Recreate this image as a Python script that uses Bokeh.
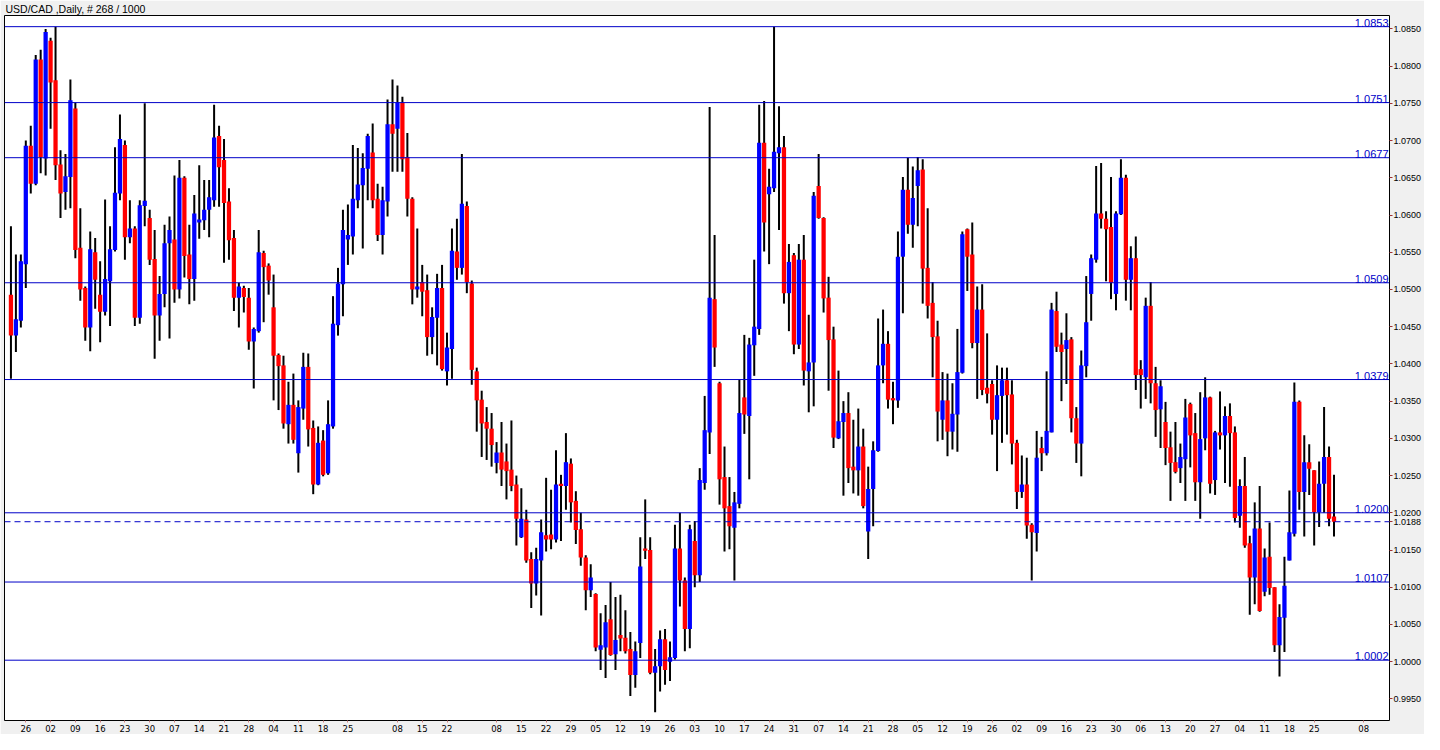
import pandas as pd
from bokeh.plotting import figure
from bokeh.models import Span, Label, FixedTicker, NumeralTickFormatter, Range1d, ColumnDataSource
from bokeh.embed import file_html
from bokeh.resources import INLINE

# ---- daily USD/CAD candles ----
opens = [1.0493,1.0438,1.0458,1.0534,1.0693,1.0642,1.0809,1.0676,1.0834,1.0781,
         1.0668,1.0631,1.0651,1.0743,1.0556,1.0502,1.0449,1.0550,1.0493,1.0470,
         1.0511,1.0553,1.0629,1.0694,1.0570,1.0582,1.0462,1.0612,1.0596,1.0541,
         1.0465,1.0494,1.0562,1.0567,1.0500,1.0650,1.0547,1.0514,1.0590,1.0593,
         1.0607,1.0620,1.0706,1.0674,1.0618,1.0569,1.0489,1.0502,1.0489,1.0430,
         1.0444,1.0549,1.0532,1.0476,1.0412,1.0398,1.0319,1.0345,1.0280,1.0340,
         1.0396,1.0314,1.0238,1.0297,1.0253,1.0316,1.0452,1.0507,1.0567,1.0571,
         1.0620,1.0640,1.0662,1.0684,1.0622,1.0573,1.0618,1.0722,1.0716,1.0751,
         1.0678,1.0622,1.0500,1.0510,1.0499,1.0436,1.0462,1.0502,1.0390,1.0420,
         1.0551,1.0529,1.0612,1.0508,1.0390,1.0352,1.0322,1.0313,1.0267,1.0281,
         1.0269,1.0258,1.0238,1.0167,1.0191,1.0138,1.0105,1.0136,1.0170,1.0171,
         1.0164,1.0239,1.0236,1.0266,1.0216,1.0178,1.0140,1.0096,1.0091,1.0016,
         1.0019,1.0057,1.0010,1.0036,1.0032,1.0017,0.9982,1.0025,1.0152,1.0150,
         0.9985,0.9994,1.0030,1.0000,1.0005,1.0152,1.0109,1.0044,1.0162,1.0116,
         1.0240,1.0308,1.0487,1.0374,1.0248,1.0209,1.0180,1.0212,1.0355,1.0330,
         1.0425,1.0447,1.0697,1.0628,1.0636,1.0683,1.0691,1.0495,1.0546,1.0426,
         1.0540,1.0390,1.0402,1.0639,1.0596,1.0489,1.0433,1.0300,1.0322,1.0334,
         1.0262,1.0257,1.0289,1.0175,1.0232,1.0283,1.0398,1.0427,1.0354,1.0351,
         1.0544,1.0634,1.0587,1.0639,1.0661,1.0529,1.0482,1.0437,1.0325,1.0351,
         1.0309,1.0332,1.0388,1.0581,1.0547,1.0428,1.0473,1.0368,1.0373,1.0325,
         1.0357,1.0378,1.0359,1.0294,1.0228,1.0238,1.0184,1.0173,1.0287,1.0280,
         1.0308,1.0471,1.0426,1.0420,1.0433,1.0327,1.0293,1.0397,1.0494,1.0540,
         1.0602,1.0595,1.0584,1.0494,1.0601,1.0650,1.0513,1.0542,1.0393,1.0382,
         1.0478,1.0374,1.0339,1.0322,1.0288,1.0268,1.0260,1.0272,1.0346,1.0307,
         1.0241,1.0300,1.0355,1.0244,1.0308,1.0304,1.0330,1.0308,1.0196,1.0236,
         1.0159,1.0113,1.0179,1.0094,1.0141,1.0100,1.0022,1.0059,1.0136,1.0172,
         1.0349,1.0228,1.0268,1.0257,1.0201,1.0239,1.0275,1.0195]
highs = [1.0585,1.0547,1.0547,1.0700,1.0720,1.0815,1.0822,1.0850,1.0838,1.0853,
         1.0687,1.0682,1.0782,1.0751,1.0609,1.0504,1.0578,1.0569,1.0538,1.0621,
         1.0585,1.0691,1.0735,1.0700,1.0620,1.0585,1.0620,1.0750,1.0607,1.0580,
         1.0518,1.0587,1.0598,1.0653,1.0674,1.0652,1.0587,1.0627,1.0667,1.0647,
         1.0647,1.0748,1.0720,1.0702,1.0636,1.0580,1.0509,1.0505,1.0502,1.0449,
         1.0580,1.0552,1.0535,1.0520,1.0414,1.0411,1.0376,1.0387,1.0351,1.0415,
         1.0414,1.0324,1.0316,1.0311,1.0351,1.0491,1.0529,1.0607,1.0614,1.0694,
         1.0690,1.0683,1.0709,1.0723,1.0642,1.0638,1.0755,1.0782,1.0774,1.0759,
         1.0710,1.0624,1.0582,1.0533,1.0520,1.0476,1.0521,1.0533,1.0442,1.0582,
         1.0595,1.0682,1.0618,1.0512,1.0395,1.0364,1.0342,1.0334,1.0295,1.0322,
         1.0293,1.0324,1.0250,1.0233,1.0204,1.0147,1.0153,1.0191,1.0247,1.0231,
         1.0284,1.0251,1.0307,1.0273,1.0229,1.0200,1.0143,1.0131,1.0092,1.0065,
         1.0076,1.0107,1.0087,1.0090,1.0069,1.0040,1.0027,1.0167,1.0218,1.0167,
         1.0017,1.0042,1.0044,1.0027,1.0184,1.0200,1.0113,1.0184,1.0189,1.0260,
         1.0357,1.0745,1.0573,1.0376,1.0289,1.0248,1.0228,1.0379,1.0439,1.0435,
         1.0540,1.0748,1.0753,1.0662,1.0853,1.0746,1.0706,1.0561,1.0549,1.0561,
         1.0573,1.0466,1.0631,1.0682,1.0597,1.0517,1.0450,1.0391,1.0350,1.0362,
         1.0325,1.0340,1.0313,1.0262,1.0296,1.0461,1.0473,1.0444,1.0376,1.0578,
         1.0651,1.0677,1.0665,1.0678,1.0675,1.0609,1.0510,1.0458,1.0389,1.0387,
         1.0374,1.0447,1.0578,1.0582,1.0590,1.0504,1.0507,1.0441,1.0378,1.0398,
         1.0395,1.0395,1.0378,1.0298,1.0277,1.0274,1.0186,1.0310,1.0302,1.0390,
         1.0482,1.0497,1.0442,1.0468,1.0436,1.0342,1.0418,1.0518,1.0547,1.0666,
         1.0670,1.0605,1.0651,1.0605,1.0675,1.0654,1.0558,1.0571,1.0405,1.0489,
         1.0510,1.0396,1.0378,1.0349,1.0309,1.0322,1.0293,1.0353,1.0348,1.0334,
         1.0362,1.0382,1.0356,1.0310,1.0363,1.0343,1.0347,1.0316,1.0245,1.0275,
         1.0169,1.0214,1.0236,1.0152,1.0187,1.0100,1.0077,1.0141,1.0230,1.0375,
         1.0351,1.0304,1.0292,1.0257,1.0269,1.0342,1.0289,1.0251]
lows = [1.0380,1.0416,1.0449,1.0502,1.0629,1.0640,1.0656,1.0653,1.0716,1.0647,
        1.0596,1.0607,1.0609,1.0542,1.0485,1.0431,1.0417,1.0474,1.0429,1.0465,
        1.0451,1.0551,1.0620,1.0540,1.0562,1.0451,1.0454,1.0585,1.0533,1.0407,
        1.0431,1.0476,1.0434,1.0482,1.0488,1.0516,1.0480,1.0485,1.0568,1.0580,
        1.0570,1.0611,1.0611,1.0536,1.0540,1.0471,1.0449,1.0469,1.0419,1.0367,
        1.0442,1.0456,1.0493,1.0351,1.0338,1.0313,1.0293,1.0293,1.0254,1.0325,
        1.0289,1.0225,1.0237,1.0249,1.0251,1.0313,1.0438,1.0464,1.0533,1.0547,
        1.0609,1.0555,1.0620,1.0609,1.0565,1.0547,1.0598,1.0658,1.0658,1.0658,
        1.0598,1.0480,1.0489,1.0464,1.0411,1.0413,1.0398,1.0391,1.0371,1.0380,
        1.0513,1.0520,1.0495,1.0372,1.0309,1.0275,1.0271,1.0262,1.0253,1.0236,
        1.0218,1.0229,1.0156,1.0166,1.0133,1.0072,1.0089,1.0062,1.0148,1.0151,
        1.0160,1.0162,1.0204,1.0187,1.0158,1.0129,1.0069,1.0087,1.0014,0.9989,
        0.9978,1.0008,0.9989,1.0014,1.0011,0.9954,0.9965,1.0005,1.0138,0.9983,
        0.9932,0.9960,0.9969,0.9974,1.0003,1.0074,1.0014,1.0018,1.0100,1.0107,
        1.0231,1.0279,1.0396,1.0211,1.0148,1.0151,1.0109,1.0206,1.0306,1.0245,
        1.0384,1.0439,1.0551,1.0534,1.0631,1.0580,1.0481,1.0444,1.0413,1.0420,
        1.0371,1.0335,1.0343,1.0595,1.0469,1.0364,1.0287,1.0299,1.0223,1.0240,
        1.0226,1.0223,1.0206,1.0138,1.0182,1.0282,1.0374,1.0340,1.0319,1.0341,
        1.0468,1.0575,1.0556,1.0585,1.0481,1.0461,1.0382,1.0296,1.0298,1.0276,
        1.0285,1.0282,1.0387,1.0498,1.0421,1.0353,1.0358,1.0347,1.0305,1.0256,
        1.0294,1.0305,1.0265,1.0205,1.0220,1.0165,1.0109,1.0148,1.0256,1.0277,
        1.0308,1.0416,1.0350,1.0373,1.0308,1.0267,1.0249,1.0382,1.0458,1.0536,
        1.0582,1.0511,1.0487,1.0472,1.0600,1.0485,1.0472,1.0365,1.0340,1.0353,
        1.0347,1.0302,1.0287,1.0264,1.0216,1.0253,1.0240,1.0216,1.0261,1.0216,
        1.0192,1.0284,1.0226,1.0224,1.0285,1.0240,1.0235,1.0187,1.0180,1.0153,
        1.0063,1.0077,1.0067,1.0088,1.0090,1.0013,0.9980,1.0013,1.0136,1.0168,
        1.0204,1.0168,1.0224,1.0156,1.0181,1.0200,1.0182,1.0168]
closes = [1.0438,1.0460,1.0538,1.0693,1.0642,1.0809,1.0678,1.0846,1.0778,1.0667,
          1.0629,1.0652,1.0754,1.0553,1.0500,1.0449,1.0554,1.0513,1.0470,1.0514,
          1.0554,1.0630,1.0702,1.0570,1.0582,1.0462,1.0613,1.0619,1.0540,1.0465,
          1.0494,1.0562,1.0580,1.0500,1.0650,1.0545,1.0514,1.0602,1.0594,1.0607,
          1.0624,1.0704,1.0664,1.0616,1.0566,1.0489,1.0504,1.0490,1.0430,1.0447,
          1.0550,1.0530,1.0512,1.0411,1.0397,1.0320,1.0345,1.0298,1.0342,1.0396,
          1.0312,1.0238,1.0294,1.0251,1.0319,1.0454,1.0508,1.0580,1.0573,1.0622,
          1.0641,1.0663,1.0706,1.0620,1.0573,1.0620,1.0722,1.0709,1.0751,1.0675,
          1.0622,1.0500,1.0504,1.0497,1.0436,1.0463,1.0502,1.0393,1.0422,1.0552,
          1.0529,1.0615,1.0510,1.0392,1.0351,1.0320,1.0313,1.0291,1.0281,1.0258,
          1.0256,1.0236,1.0192,1.0192,1.0136,1.0105,1.0138,1.0174,1.0164,1.0164,
          1.0238,1.0236,1.0268,1.0214,1.0177,1.0140,1.0096,1.0113,1.0019,1.0022,
          1.0053,1.0009,1.0029,1.0031,1.0014,0.9982,1.0014,1.0128,1.0149,0.9985,
          0.9994,1.0030,0.9989,1.0006,1.0152,1.0109,1.0044,1.0178,1.0116,1.0244,
          1.0311,1.0489,1.0422,1.0245,1.0206,1.0182,1.0214,1.0334,1.0332,1.0426,
          1.0450,1.0697,1.0590,1.0638,1.0685,1.0691,1.0495,1.0537,1.0426,1.0540,
          1.0391,1.0402,1.0626,1.0596,1.0488,1.0432,1.0301,1.0323,1.0334,1.0260,
          1.0257,1.0289,1.0209,1.0232,1.0284,1.0398,1.0427,1.0352,1.0351,1.0544,
          1.0634,1.0587,1.0623,1.0660,1.0528,1.0478,1.0436,1.0336,1.0351,1.0309,
          1.0333,1.0389,1.0574,1.0544,1.0428,1.0473,1.0365,1.0360,1.0325,1.0358,
          1.0378,1.0358,1.0293,1.0228,1.0238,1.0183,1.0174,1.0274,1.0280,1.0310,
          1.0473,1.0423,1.0416,1.0432,1.0327,1.0293,1.0398,1.0456,1.0542,1.0602,
          1.0595,1.0581,1.0509,1.0602,1.0650,1.0513,1.0542,1.0385,1.0385,1.0478,
          1.0374,1.0338,1.0370,1.0287,1.0267,1.0255,1.0275,1.0328,1.0304,1.0241,
          1.0299,1.0355,1.0239,1.0308,1.0304,1.0330,1.0307,1.0193,1.0236,1.0156,
          1.0113,1.0179,1.0068,1.0140,1.0099,1.0022,1.0060,1.0102,1.0174,1.0349,
          1.0228,1.0268,1.0259,1.0201,1.0239,1.0275,1.0192,1.0188]

# horizontal levels drawn on the chart, and the last price
levels = [1.0853, 1.0751, 1.0677, 1.0509, 1.0379, 1.0200, 1.0107, 1.0002]
last_price = 1.0188
price_ticks = [round(0.995 + 0.005 * k, 4) for k in range(19)]

# trading days (weekdays) from 21 Oct 2009; axis shows Mondays up to 08 Nov 2010
first_day = "2009-10-21"
extra_days = 6
unlabelled_mondays = ["2010-02-01", "2010-03-01", "2010-11-01"]
days = pd.bdate_range(first_day, periods=len(opens) + extra_days)
tick_pos = [i for i, d in enumerate(days)
            if d.weekday() == 0 and d.strftime("%Y-%m-%d") not in unlabelled_mondays]
tick_labels = [days[i].strftime("%d") for i in tick_pos]

title_text = "USD/CAD ,Daily, # 268 / 1000"
x_start, x_end = -1.3, 278.2
y_start, y_end = 0.9921, 1.0868

BLUE_LINE = "#0000C8"
UP = "#0000FF"
DOWN = "#FF0000"

idx = list(range(len(opens)))
src = ColumnDataSource(dict(
    x=idx, o=opens, h=highs, l=lows, c=closes,
    top=[max(a, b) for a, b in zip(opens, closes)],
    bot=[min(a, b) for a, b in zip(opens, closes)],
    col=[UP if c >= o else DOWN for o, c in zip(opens, closes)],
))

p = figure(width=1424, height=734, output_backend="svg", toolbar_location=None,
           x_range=Range1d(x_start, x_end), y_range=Range1d(y_start, y_end),
           y_axis_location="right", tools="",
           min_border_left=4, min_border_right=31, min_border_top=0, min_border_bottom=0)
p.border_fill_color = "#F0F0F0"
p.background_fill_color = "white"
p.outline_line_color = "black"
p.outline_line_width = 1
p.xgrid.visible = False
p.ygrid.visible = False

p.title.text = title_text
p.title.text_font = "Liberation Sans"
p.title.text_font_size = "10.5px"
p.title.text_font_style = "normal"
p.title.text_color = "black"
p.title.offset = 1
p.title.standoff = 1

# wicks then bodies
p.segment(x0="x", y0="l", x1="x", y1="h", source=src, line_color="black", line_width=2)
p.vbar(x="x", width=0.86, top="top", bottom="bot", source=src,
       fill_color="col", line_color=None)

for lv in levels:
    p.add_layout(Span(location=lv, dimension="width", line_color=BLUE_LINE, line_width=1))
    p.add_layout(Label(x=x_end, y=lv, text=f"{lv:.4f}", text_align="right",
                       text_baseline="bottom", x_offset=-1, y_offset=0,
                       text_font="Liberation Sans", text_font_size="11px",
                       text_color=BLUE_LINE))

p.add_layout(Span(location=last_price, dimension="width", line_color=BLUE_LINE,
                  line_width=1, line_dash="6 4"))

# axes (the last price is shown on the price scale as well)
ya = p.yaxis[0]
ya.ticker = FixedTicker(ticks=price_ticks + [last_price])
ya.formatter = NumeralTickFormatter(format="0.0000")
ya.axis_line_color = None
ya.major_tick_out = 3
ya.major_tick_in = 0
ya.minor_tick_line_color = None
ya.major_tick_line_color = "#A03030"
ya.major_label_standoff = 1
ya.major_label_text_font = "Liberation Sans"
ya.major_label_text_font_size = "9px"
ya.major_label_text_color = "black"

xa = p.xaxis[0]
xa.ticker = FixedTicker(ticks=tick_pos)
xa.major_label_overrides = {i: lab for i, lab in zip(tick_pos, tick_labels)}
xa.axis_line_color = None
xa.major_tick_out = 2
xa.major_tick_in = 0
xa.minor_tick_line_color = None
xa.major_tick_line_color = "#D08080"
xa.major_label_standoff = 2
xa.major_label_text_font = "DejaVu Sans"
xa.major_label_text_font_size = "8.5px"
xa.major_label_text_color = "black"

open("out.html", "w").write(file_html(p, INLINE))
